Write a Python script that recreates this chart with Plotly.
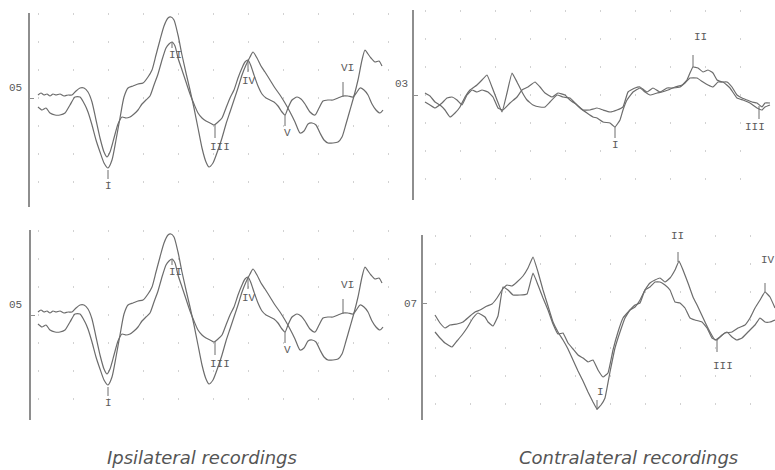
import plotly.graph_objects as go

W, H = 775, 470

# ---------------- DATA (t = sample index, a = amplitude, arbitrary units) ----------------
# Ipsilateral (top) – two superimposed recordings
ipsi_top_A_t = [0,4,8,12,17,22,27,32,37,42,47,50,54,58,62,66,70,74,78,82,86,90,95,100,105,110,114,118,122,126,130,133,136,140,144,148,152,156,160,164,168,171,175,180,184,188,192,196,200,204,208,212,215,219,223,227,232,237,242,247,252,257,262,266,270,274,278,282,286,290,295,300,304,308,312,316,320,324,327,330,333,337,341,344]
ipsi_top_A_a = [-9,-12,-10,-15,-17,-17,-15,-7,1,1,-7,-14,-27,-42,-54,-65,-70,-62,-42,-20,1,10,12,14,15,21,28,43,58,72,80,81,78,63,43,25,8,-10,-30,-50,-64,-69,-65,-52,-40,-26,-14,-2,10,23,33,41,46,40,32,26,18,10,3,-5,-14,-24,-35,-33,-26,-25,-27,-35,-42,-45,-45,-44,-39,-26,-12,2,18,38,48,44,40,36,37,32]
ipsi_top_B_t = [0,3,6,9,12,15,18,22,26,30,34,38,42,46,50,54,58,62,66,69,72,76,80,84,88,92,96,100,104,108,112,116,120,124,128,131,134,137,140,144,148,152,156,160,164,168,172,176,180,184,188,192,196,200,204,207,210,213,216,220,224,228,232,236,240,244,247,250,254,259,263,267,272,277,281,285,290,295,300,305,310,315,319,322,326,330,334,338,342,345]
ipsi_top_B_a = [3,5,3,4,2,4,3,4,2,3,3,7,10,10,6,-4,-22,-40,-54,-59,-54,-40,-26,-19,-20,-19,-16,-12,-6,-2,2,13,24,38,50,54,56,52,40,28,16,4,-6,-15,-20,-23,-25,-27,-24,-20,-10,0,8,20,30,36,38,32,23,12,4,0,-2,-4,-8,-14,-17,-10,-2,1,-1,-6,-14,-17,-10,-3,-2,-2,0,2,2,1,6,10,8,3,-6,-12,-15,-12]

# Ipsilateral (bottom) – same recordings re-plotted
ipsi_bot_A_t = ipsi_top_A_t
ipsi_bot_A_a = ipsi_top_A_a
ipsi_bot_B_t = ipsi_top_B_t
ipsi_bot_B_a = ipsi_top_B_a

# Contralateral (top)
contra_top_C_t = [0,5,10,15,20,25,30,35,40,45,52,57,62,67,72,77,82,87,92,97,102,108,115,120,125,132,138,145,150,155,162,168,172,178,185,190,195,198,202,208,215,220,225,232,237,243,250,257,262,265,268,273,278,283,288,292,297,302,307,312,317,322,327,332,337,340,345]
contra_top_C_a = [2,-1,-7,-10,-15,-22,-18,-12,-2,5,10,15,20,8,-5,-17,2,22,13,3,-5,-10,-12,-12,-7,0,-2,-3,-8,-13,-18,-22,-23,-27,-28,-32,-25,-15,-5,3,7,3,0,2,3,5,8,10,15,22,28,27,23,25,22,15,13,13,8,0,-3,-5,-7,-8,-12,-8,-8]
contra_top_D_t = [0,5,10,17,22,27,32,37,42,47,52,57,63,68,73,78,85,92,97,103,110,115,120,127,133,140,145,152,158,165,172,178,185,192,198,203,210,215,222,228,235,242,248,255,260,265,272,278,283,288,293,298,305,312,318,325,332,337,340,345]
contra_top_D_a = [-7,-10,-13,-8,-3,-2,-5,-10,0,5,3,5,3,-2,-13,-15,-8,-2,5,8,13,8,2,-2,2,0,-5,-10,-15,-15,-13,-15,-17,-15,-12,3,7,8,3,7,3,7,7,8,12,17,17,13,10,8,13,13,7,-3,-5,-8,-13,-15,-12,-10]

# Contralateral (bottom)
contra_bot_G_t = [0,5,10,15,22,28,35,40,45,52,57,62,67,72,77,82,88,93,98,103,108,113,118,123,128,133,138,143,148,153,158,162,166,170,175,180,185,190,195,200,205,210,215,220,225,230,235,240,244,248,253,258,263,270,275,280,285,290,297,303,310,315,320,325,330,335,340]
contra_bot_G_a = [-12,-20,-25,-22,-21,-19,-13,-9,-7,-3,-1,5,13,18,17,21,27,35,46,31,13,-3,-19,-29,-37,-46,-57,-68,-78,-89,-99,-106,-102,-95,-69,-45,-29,-15,-7,-4,3,13,20,23,25,21,25,33,42,33,20,6,-4,-19,-29,-37,-34,-30,-29,-25,-22,-15,-5,3,11,6,-5]
contra_bot_H_t = [0,5,10,17,22,27,32,38,43,50,53,58,63,68,73,78,85,92,98,103,108,113,118,123,128,133,138,143,148,153,158,163,168,173,178,183,188,195,200,205,210,215,220,225,230,235,240,245,250,255,260,267,272,277,282,287,292,297,302,307,313,320,325,330,335,340]
contra_bot_H_a = [-29,-35,-40,-44,-38,-32,-25,-15,-10,-14,-19,-23,-13,16,13,8,8,9,30,18,5,-7,-21,-31,-30,-40,-46,-52,-55,-59,-57,-67,-74,-70,-47,-29,-15,-7,-2,0,13,16,21,21,18,13,1,0,-5,-15,-17,-19,-25,-35,-37,-32,-29,-34,-37,-35,-29,-22,-15,-19,-19,-17]

# Wave labels: text, label position (t, a), marker tick (t, a_start, a_end)
ipsi_labels   = ["I", "II", "III", "IV", "V", "VI"]
ipsi_lab_t    = [70, 137, 182, 211, 249, 309]
ipsi_lab_a    = [-88, 43, -49, 17, -35, 30]
ipsi_tick_t   = [70, 134, 177, 210, 247, 305]
ipsi_tick_a0  = [-72, 56, -27, 38, -17, 16]
ipsi_tick_a1  = [-81, 50, -40, 26, -28, 1]

ct_labels  = ["I", "II", "III"]
ct_lab_t   = [190, 275, 330]
ct_lab_a   = [-50, 58, -32]
ct_tick_t  = [190, 268, 334]
ct_tick_a0 = [-32, 40, -11]
ct_tick_a1 = [-43, 28, -24]

cb_labels  = ["I", "II", "III", "IV"]
cb_lab_t   = [165, 242, 288, 333]
cb_lab_a   = [-89, 67, -63, 43]
cb_tick_t  = [162, 243, 282, 330]
cb_tick_a0 = [-97, 51, -37, 20]
cb_tick_a1 = [-107, 41, -49, 11]

gain_labels = ["05", "03", "05", "07"]
captions = ["Ipsilateral recordings", "Contralateral recordings"]

# ---------------- FIGURE ----------------
TRACE_COL = "#6c6c6c"
AXIS_COL = "#8e8e8e"
TXT_COL = "#5a5a5a"
MONO = "Liberation Mono, Courier New, monospace"

# panel geometry (pixels): x-domain, y-domain (top, bottom), x-range, y-range, gain label pos
panels = [
    dict(xd=(30, 390), yd=(13, 207), xr=(-8, 352), yr=(-109, 85), glab=(15, 88), smooth=0.6,
         traces=[(ipsi_top_A_t, ipsi_top_A_a), (ipsi_top_B_t, ipsi_top_B_a)],
         labs=(ipsi_labels, ipsi_lab_t, ipsi_lab_a, ipsi_tick_t, ipsi_tick_a0, ipsi_tick_a1)),
    dict(xd=(414, 775), yd=(10, 200), xr=(-11, 350), yr=(-105, 85), glab=(401, 84), smooth=0.3,
         traces=[(contra_top_C_t, contra_top_C_a), (contra_top_D_t, contra_top_D_a)],
         labs=(ct_labels, ct_lab_t, ct_lab_a, ct_tick_t, ct_tick_a0, ct_tick_a1)),
    dict(xd=(31, 390), yd=(230, 420), xr=(-7, 352), yr=(-105, 85), glab=(15, 305), smooth=0.6,
         traces=[(ipsi_bot_A_t, ipsi_bot_A_a), (ipsi_bot_B_t, ipsi_bot_B_a)],
         labs=(ipsi_labels, ipsi_lab_t, ipsi_lab_a, ipsi_tick_t, ipsi_tick_a0, ipsi_tick_a1)),
    dict(xd=(423, 775), yd=(235, 420), xr=(-12, 340), yr=(-117, 68), glab=(411, 304), smooth=0.3,
         traces=[(contra_bot_G_t, contra_bot_G_a), (contra_bot_H_t, contra_bot_H_a)],
         labs=(cb_labels, cb_lab_t, cb_lab_a, cb_tick_t, cb_tick_a0, cb_tick_a1)),
]

fig = go.Figure()
annotations = []
layout_axes = {}

for i, p in enumerate(panels):
    n = "" if i == 0 else str(i + 1)
    xref, yref = "x" + n, "y" + n
    for (t, a) in p["traces"]:
        fig.add_trace(go.Scatter(x=t, y=a, mode="lines", xaxis=xref, yaxis=yref,
                                 line=dict(color=TRACE_COL, width=1.2, shape="spline",
                                           smoothing=p["smooth"]),
                                 hoverinfo="skip", showlegend=False))
    labs, lt, la, tt, ta0, ta1 = p["labs"]
    tx, ty = [], []
    for k in range(len(labs)):
        tx += [tt[k], tt[k], None]
        ty += [ta0[k], ta1[k], None]
        annotations.append(dict(x=lt[k], y=la[k], xref=xref, yref=yref, text=labs[k],
                                xanchor="center", yanchor="middle",
                                showarrow=False, font=dict(family=MONO, size=11, color=TXT_COL)))
    fig.add_trace(go.Scatter(x=tx, y=ty, mode="lines", xaxis=xref, yaxis=yref,
                             line=dict(color=TRACE_COL, width=1), hoverinfo="skip", showlegend=False))
    # gain label
    gx, gy = p["glab"]
    annotations.append(dict(x=gx / W, y=1 - gy / H, xref="paper", yref="paper", text=gain_labels[i],
                            xanchor="center", yanchor="middle",
                            showarrow=False, font=dict(family=MONO, size=11, color=TXT_COL)))
    x0, x1 = p["xd"]
    yt, yb = p["yd"]
    layout_axes["xaxis" + n] = dict(domain=[x0 / W, x1 / W], range=list(p["xr"]), anchor=yref,
                                    showline=False, zeroline=False, showticklabels=False, ticks="",
                                    showgrid=True, dtick=35, tick0=0, gridcolor="#d2d2d2",
                                    griddash="2px,26px", gridwidth=1, fixedrange=True)
    layout_axes["yaxis" + n] = dict(domain=[1 - yb / H, 1 - yt / H], range=list(p["yr"]), anchor=xref,
                                    showline=True, linecolor=AXIS_COL, linewidth=1.5,
                                    zeroline=False, showgrid=False, showticklabels=False,
                                    ticks="inside", tickvals=[0], ticklen=4, tickcolor=AXIS_COL,
                                    fixedrange=True)

# captions
cap_x = [202, 628]
for c, cx in zip(captions, cap_x):
    annotations.append(dict(x=cx / W, y=1 - 457 / H, xref="paper", yref="paper", text="<i>" + c + "</i>",
                            xanchor="center", yanchor="middle",
                            showarrow=False, font=dict(family="DejaVu Sans, Liberation Sans, sans-serif",
                                                       size=18, color="#555555")))

fig.update_layout(width=W, height=H, margin=dict(l=0, r=0, t=0, b=0),
                  paper_bgcolor="white", plot_bgcolor="rgba(0,0,0,0)",
                  annotations=annotations, **layout_axes)

fig.write_html("out.html", config={"displayModeBar": False},
               post_script="document.body.style.margin='0px';document.body.style.overflow='hidden';")
